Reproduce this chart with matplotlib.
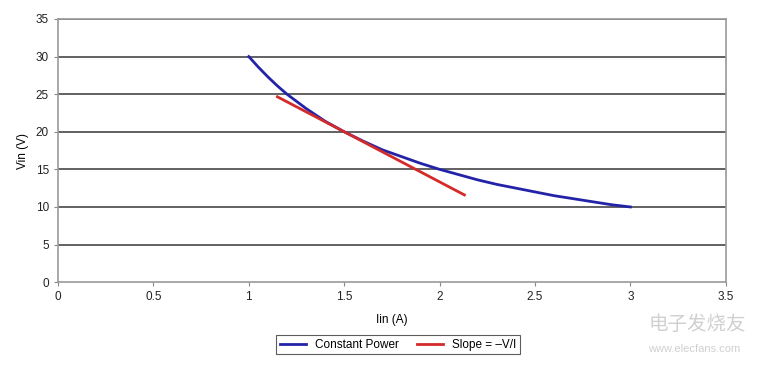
import matplotlib
matplotlib.use("Agg")
from matplotlib import pyplot as plt

# constant power curve
i_power = [1.0, 1.05, 1.1, 1.15, 1.2, 1.3, 1.4, 1.5, 1.6, 1.7, 1.8, 1.9, 2.0,
           2.1, 2.2, 2.3, 2.4, 2.5, 2.6, 2.7, 2.8, 2.9, 3.0]
v_power = [30.0, 28.6, 27.3, 26.1, 25.0, 23.1, 21.4, 20.0, 18.75, 17.6, 16.7, 15.8, 15.0,
           14.3, 13.6, 13.0, 12.5, 12.0, 11.5, 11.1, 10.7, 10.3, 10.0]

# tangent line, slope = -V/I
i_slope = [1.15, 1.5, 2.13]
v_slope = [24.65, 20.0, 11.6]

x_ticks = [0, 0.5, 1, 1.5, 2, 2.5, 3, 3.5]
x_labels = ["0", "0.5", "1", "1.5", "2", "2.5", "3", "3.5"]
y_ticks = [0, 5, 10, 15, 20, 25, 30, 35]

plt.rcParams['font.family'] = ['Liberation Sans', 'DejaVu Sans']

fig = plt.figure(figsize=(7.58, 3.65), dpi=100)
ax = fig.add_axes([0.0765, 0.227, 0.881, 0.721])

for y in y_ticks[1:]:
    ax.axhline(y, color='#555555', linewidth=1.3, zorder=1)

ax.plot(i_power, v_power, color='#2323a8', linewidth=2, label='Constant Power', zorder=3)
ax.plot(i_slope, v_slope, color='#d42a2a', linewidth=2, label='Slope = \u2013V/I', zorder=4)

ax.set_xlim(0, 3.5)
ax.set_ylim(0, 35)
ax.set_xticks(x_ticks)
ax.set_xticklabels(x_labels)
ax.set_yticks(y_ticks)
ax.tick_params(labelsize=8.5, length=3, color='#888888', colors='#222222')
for s in ax.spines.values():
    s.set_color('#999999')
    s.set_linewidth(1.2)

ax.set_xlabel('Iin (A)', fontsize=8.5, labelpad=8)
ax.set_ylabel('Vin (V)', fontsize=8.5, labelpad=5)

leg = fig.legend(loc='center', bbox_to_anchor=(0.525, 0.055), ncol=2, fontsize=8.5,
                 frameon=True, fancybox=False, edgecolor='#333333',
                 handlelength=2.2, columnspacing=1.5, borderpad=0.3)
leg.get_frame().set_linewidth(0.8)

# watermark
fig.text(0.855, 0.095, '电子发烧友', fontsize=14, color='#d0d0d0',
         family=['Noto Sans CJK SC', 'DejaVu Sans'])
fig.text(0.855, 0.035, 'www.elecfans.com', fontsize=8, color='#d0d0d0')

fig.savefig('out.png', dpi=100)
